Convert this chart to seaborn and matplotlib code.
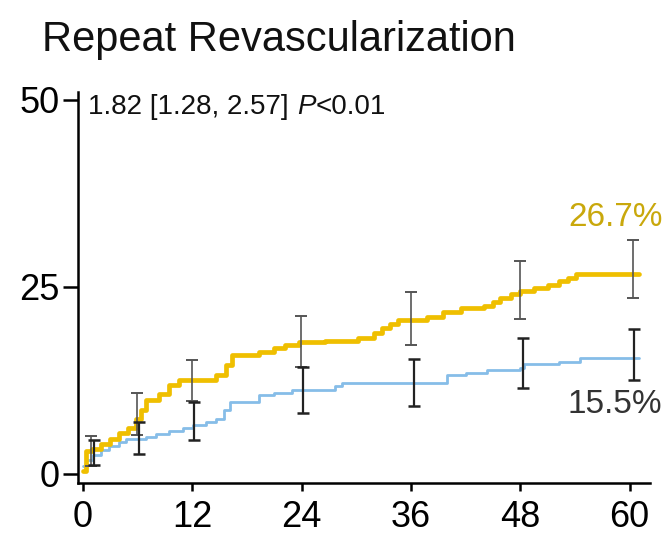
import matplotlib
matplotlib.use("Agg")
import matplotlib.pyplot as plt
import numpy as np
import pandas as pd
import seaborn as sns

# Cumulative incidence of repeat revascularization (%), step events by month
months_a = [0, 0.3, 1.0, 2.0, 3.0, 4.0, 5.0, 5.8, 6.4, 6.9, 8.4, 9.5, 10.6, 13.5, 14.6,
            15.7, 16.4, 19.3, 21.0, 22.2, 23.7, 26.6, 30.2, 31.3, 32.0, 32.8, 33.7, 34.6,
            37.8, 39.5, 41.5, 44.0, 45.0, 45.8, 47.0, 48.0, 49.5, 51.0, 52.3, 53.2, 54.1, 61.0]
rate_a = [0.4, 3.0, 3.4, 4.0, 4.7, 5.5, 6.2, 7.4, 8.6, 9.9, 10.7, 11.9, 12.5, 12.5, 13.2,
          14.6, 15.9, 16.3, 16.8, 17.2, 17.6, 17.8, 18.1, 18.1, 18.8, 19.5, 20.0, 20.6,
          21.0, 21.6, 22.2, 22.4, 23.0, 23.5, 24.0, 24.4, 24.9, 25.3, 25.8, 26.2, 26.7, 26.7]

months_b = [0, 0.3, 1.1, 2.0, 2.9, 4.0, 4.7, 6.9, 8.0, 9.5, 11.0, 12.1, 13.5, 14.6, 15.5,
            16.1, 19.3, 21.0, 23.0, 26.6, 27.7, 28.4, 38.6, 40.0, 42.0, 44.4, 48.0, 48.4,
            52.3, 54.5, 61.0]
rate_b = [1.1, 1.8, 2.5, 3.2, 3.8, 4.3, 4.7, 4.9, 5.3, 5.8, 6.2, 6.5, 7.0, 7.4, 8.5,
          9.6, 10.5, 10.8, 11.2, 11.2, 11.8, 12.1, 12.1, 13.2, 13.5, 13.9, 14.1, 14.7,
          15.0, 15.5, 15.5]

# Confidence intervals at the landmark months
ci_month_a = [0.9, 5.9, 12.0, 23.9, 36.0, 48.0, 60.4]
ci_mid_a = [3.2, 8.0, 12.5, 17.6, 20.6, 24.4, 26.7]
ci_lo_a = [1.0, 5.2, 9.8, 14.3, 17.2, 20.7, 23.5]
ci_hi_a = [5.1, 10.8, 15.2, 21.1, 24.3, 28.4, 31.2]

ci_month_b = [1.2, 6.2, 12.2, 24.2, 36.3, 48.3, 60.5]
ci_mid_b = [2.6, 4.9, 6.5, 11.0, 12.1, 14.4, 15.5]
ci_lo_b = [1.2, 2.7, 4.5, 8.1, 9.1, 11.5, 12.5]
ci_hi_b = [4.5, 7.0, 9.6, 14.3, 15.4, 18.2, 19.4]

x_ticks = [0, 12, 24, 36, 48, 60]
y_ticks = [0, 25, 50]
end_label_a = "26.7%"
end_label_b = "15.5%"
title = "Repeat Revascularization"
hr_text = "1.82 [1.28, 2.57] "

sns.set_theme(style="ticks")
plt.rcParams["font.family"] = ["Liberation Sans", "DejaVu Sans"]

gold = "#efbf00"
blue = "#86bde8"

fig = plt.figure(figsize=(6.65, 5.36), dpi=100)
ax = fig.add_axes([0.117, 0.099, 0.860, 0.729])

df_a = pd.DataFrame({"month": months_a, "rate": rate_a})
df_b = pd.DataFrame({"month": months_b, "rate": rate_b})
sns.lineplot(data=df_b, x="month", y="rate", ax=ax, color=blue, linewidth=2.0,
             drawstyle="steps-post", estimator=None, sort=False)
sns.lineplot(data=df_a, x="month", y="rate", ax=ax, color=gold, linewidth=3.4,
             drawstyle="steps-post", estimator=None, sort=False)

mid_a = np.array(ci_mid_a)
mid_b = np.array(ci_mid_b)
ax.errorbar(ci_month_a, mid_a, yerr=[mid_a - np.array(ci_lo_a), np.array(ci_hi_a) - mid_a],
            fmt="none", ecolor="#555555", elinewidth=1.2, capsize=4, capthick=1.4, zorder=5)
ax.errorbar(ci_month_b, mid_b, yerr=[mid_b - np.array(ci_lo_b), np.array(ci_hi_b) - mid_b],
            fmt="none", ecolor="#222222", elinewidth=1.6, capsize=4, capthick=1.8, zorder=5)

ax.set_xlim(-0.55, 62.2)
ax.set_ylim(-1.2, 51)
ax.set_xticks(x_ticks)
ax.set_yticks(y_ticks)
ax.set_xlabel("")
ax.set_ylabel("")
ax.tick_params(axis="y", length=11, width=1.8, pad=2, labelsize=26, colors="black")
ax.tick_params(axis="x", length=6, width=1.8, pad=6, labelsize=26, colors="black")
for side in ("top", "right"):
    ax.spines[side].set_visible(False)
for side in ("left", "bottom"):
    ax.spines[side].set_linewidth(1.8)
    ax.spines[side].set_color("black")
ax.grid(False)

ax.text(63.6, 34.3, end_label_a, color="#c9a80c", fontsize=24, ha="right", va="center",
        clip_on=False)
ax.text(63.6, 9.3, end_label_b, color="#333333", fontsize=24, ha="right", va="center",
        clip_on=False)

t1 = ax.text(0.6, 47.3, hr_text, fontsize=20, ha="left", va="bottom", color="#111111")
t2 = ax.annotate("P", xy=(1, 0), xycoords=t1, ha="left", va="bottom", fontsize=20,
                 fontstyle="italic", color="#111111")
ax.annotate("<0.01", xy=(1, 0), xycoords=t2, ha="left", va="bottom", fontsize=20,
            color="#111111")

fig.text(0.063, 0.905, title, fontsize=30, ha="left", va="baseline", color="#111111")

fig.savefig("out.png", dpi=100, facecolor="white")
